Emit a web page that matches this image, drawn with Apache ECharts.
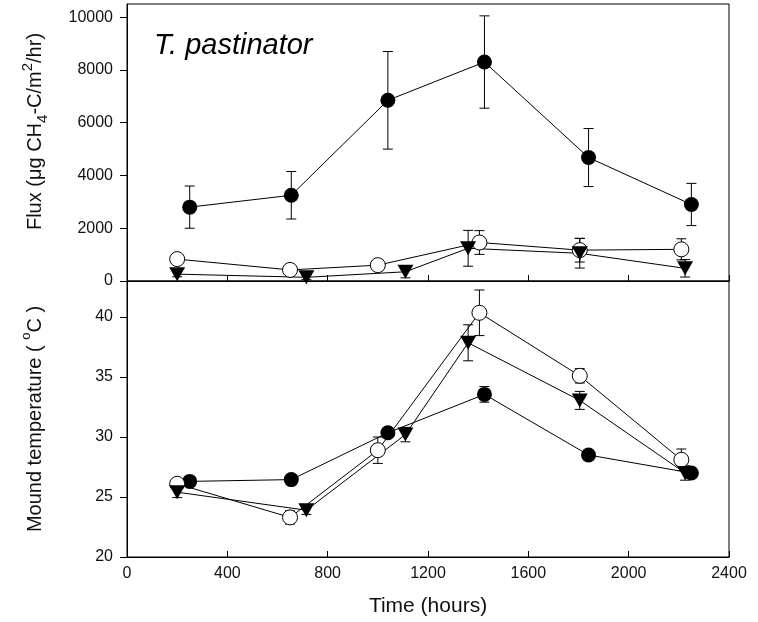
<!DOCTYPE html>
<html>
<head>
<meta charset="utf-8">
<script src="https://cdn.jsdelivr.net/npm/echarts@6/dist/echarts.min.js"></script>
<style>
  html, body { margin: 0; padding: 0; background: #fff; }
  #chart { width: 758px; height: 622px; }
</style>
</head>
<body>
<div id="chart"></div>
<script>
// sampling times (hours), slightly offset per treatment
var filledTime = [250, 655, 1040, 1425, 1840, 2250];
var openTime = [200, 650, 1000, 1405, 1805, 2210];
var triTime = [200, 715, 1110, 1360, 1805, 2225];

// CH4 flux (ug CH4-C/m2/hr) and std. error
var fluxFilled = [2800, 3250, 6850, 8300, 4680, 2900];
var fluxFilledErr = [800, 900, 1850, 1750, 1100, 800];
var fluxOpen = [830, 420, 600, 1460, 1170, 1200];
var fluxOpenErr = [100, 80, 100, 450, 450, 400];
var fluxTri = [260, 140, 350, 1240, 1050, 480];
var fluxTriErr = [100, 90, 230, 680, 560, 330];

// mound temperature (oC) and std. error
var tempFilled = [26.3, 26.45, 30.35, 33.55, 28.5, 27.0];
var tempFilledErr = [0.15, 0.15, 0.2, 0.65, 0.2, 0.2];
var tempOpen = [26.1, 23.3, 28.9, 40.35, 35.1, 28.1];
var tempOpenErr = [0.2, 0.55, 1.1, 1.9, 0.6, 0.9];
var tempTri = [25.4, 23.9, 30.2, 37.85, 33.05, 27.0];
var tempTriErr = [0.45, 0.35, 0.6, 1.5, 0.75, 0.6];

// tick labels
var timeTicks = [0, 400, 800, 1200, 1600, 2000, 2400];
var fluxTicks = [0, 2000, 4000, 6000, 8000, 10000];
var tempTicks = [20, 25, 30, 35, 40];

var FONT = '"Liberation Sans", Arial, Helvetica, sans-serif';

/**
 * 拼成 [x, y] 或 [x, y, err]
 */
function pairs(xs, ys, errs) {
    var out = [];
    for (var i = 0; i < xs.length; i++) {
        out.push(errs ? [xs[i], ys[i], errs[i]] : [xs[i], ys[i]]);
    }
    return out;
}

/**
 * 误差线
 */
function renderErrorBar(params, api) {
    var x = api.value(0), y = api.value(1), e = api.value(2);
    var hi = api.coord([x, y + e]);
    var lo = api.coord([x, y - e]);
    var w = 5;
    var st = { stroke: '#000', lineWidth: 1 };
    return {
        type: 'group',
        children: [
            { type: 'line', shape: { x1: hi[0], y1: hi[1], x2: lo[0], y2: lo[1] }, style: st },
            { type: 'line', shape: { x1: hi[0] - w, y1: hi[1], x2: hi[0] + w, y2: hi[1] }, style: st },
            { type: 'line', shape: { x1: lo[0] - w, y1: lo[1], x2: lo[0] + w, y2: lo[1] }, style: st }
        ]
    };
}

function errSeries(idx, xs, ys, errs) {
    return {
        type: 'custom',
        xAxisIndex: idx, yAxisIndex: idx,
        renderItem: renderErrorBar,
        data: pairs(xs, ys, errs),
        z: 1,
        silent: true
    };
}

function lineSeries(idx, xs, ys, kind) {
    var s = {
        type: 'line',
        xAxisIndex: idx, yAxisIndex: idx,
        data: pairs(xs, ys),
        symbol: 'circle',
        symbolSize: 15,
        lineStyle: { color: '#000', width: 1 },
        itemStyle: { color: '#000' },
        z: 2
    };
    if (kind == 'open') {
        s.itemStyle = { color: '#fff', borderColor: '#000', borderWidth: 1 };
    }
    if (kind == 'tri') {
        s.symbol = 'triangle';
        s.symbolRotate = 180;
        s.symbolSize = [16, 14];
    }
    return s;
}

function plain(v) {
    return String(v);
}

var axisLine = { show: true, lineStyle: { color: '#000', width: 1 } };
var labelStyle = { color: '#111', fontSize: 16, fontFamily: FONT, formatter: plain };
var nameStyle = { color: '#111', fontSize: 20, fontFamily: FONT };

var option = {
    animation: false,
    backgroundColor: '#fff',
    grid: [
        { left: 127, right: 29, top: 4, height: 277, show: true, borderColor: '#000', borderWidth: 1 },
        { left: 127, right: 29, top: 281, height: 276, show: true, borderColor: '#000', borderWidth: 1 }
    ],
    xAxis: [
        {
            gridIndex: 0, type: 'value', min: 0, max: 2400, interval: 400,
            axisLine: axisLine,
            axisTick: { inside: true, length: 6, lineStyle: { color: '#000' }, customValues: timeTicks },
            axisLabel: { show: false },
            splitLine: { show: false }
        },
        {
            gridIndex: 1, type: 'value', min: 0, max: 2400, interval: 400,
            axisLine: axisLine,
            axisTick: { inside: true, length: 6, lineStyle: { color: '#000' }, customValues: timeTicks },
            axisLabel: Object.assign({ margin: 9, customValues: timeTicks }, labelStyle),
            splitLine: { show: false },
            name: 'Time (hours)',
            nameLocation: 'middle',
            nameGap: 39,
            nameTextStyle: Object.assign({}, nameStyle, { fontSize: 21 })
        }
    ],
    yAxis: [
        {
            gridIndex: 0, type: 'value', min: 0, max: 10500,
            axisLine: axisLine,
            axisTick: { length: 7, lineStyle: { color: '#000' }, customValues: fluxTicks },
            axisLabel: Object.assign({ margin: 14, customValues: fluxTicks }, labelStyle),
            splitLine: { show: false },
            name: '{n|Flux (μg CH}{sub|4}{n|-C/m}{sup|2}{n|/hr)}',
            nameLocation: 'middle',
            nameRotate: 90,
            nameGap: 77,
            nameTextStyle: Object.assign({
                padding: [0, 0, 0, 22],
                rich: {
                    n: { fontSize: 20, fontFamily: FONT, color: '#111', lineHeight: 30 },
                    sub: { fontSize: 15, fontFamily: FONT, color: '#111', lineHeight: 15, verticalAlign: 'bottom' },
                    sup: { fontSize: 15, fontFamily: FONT, color: '#111', lineHeight: 15, verticalAlign: 'top' }
                }
            }, nameStyle)
        },
        {
            gridIndex: 1, type: 'value', min: 20, max: 43,
            axisLine: axisLine,
            axisTick: { length: 7, lineStyle: { color: '#000' }, customValues: tempTicks },
            axisLabel: Object.assign({ margin: 14, customValues: tempTicks }, labelStyle),
            splitLine: { show: false },
            name: '{n|Mound temperature ( }{sup|o}{n|C )}',
            nameLocation: 'middle',
            nameRotate: 90,
            nameGap: 77,
            nameTextStyle: Object.assign({
                rich: {
                    n: { fontSize: 20, fontFamily: FONT, color: '#111', lineHeight: 30 },
                    sup: { fontSize: 13, fontFamily: FONT, color: '#111', lineHeight: 13, verticalAlign: 'top' }
                }
            }, nameStyle)
        }
    ],
    graphic: [
        {
            type: 'text', left: 154, top: 31,
            style: { text: 'T. pastinator', fontSize: 29, fontStyle: 'italic', fontFamily: FONT, fill: '#000' }
        }
    ],
    series: [
        errSeries(0, filledTime, fluxFilled, fluxFilledErr),
        errSeries(0, openTime, fluxOpen, fluxOpenErr),
        errSeries(0, triTime, fluxTri, fluxTriErr),
        lineSeries(0, filledTime, fluxFilled, 'filled'),
        lineSeries(0, openTime, fluxOpen, 'open'),
        lineSeries(0, triTime, fluxTri, 'tri'),
        errSeries(1, filledTime, tempFilled, tempFilledErr),
        errSeries(1, openTime, tempOpen, tempOpenErr),
        errSeries(1, triTime, tempTri, tempTriErr),
        lineSeries(1, filledTime, tempFilled, 'filled'),
        lineSeries(1, openTime, tempOpen, 'open'),
        lineSeries(1, triTime, tempTri, 'tri')
    ]
};

var chart = echarts.init(document.getElementById('chart'));
chart.setOption(option);
</script>
</body>
</html>
